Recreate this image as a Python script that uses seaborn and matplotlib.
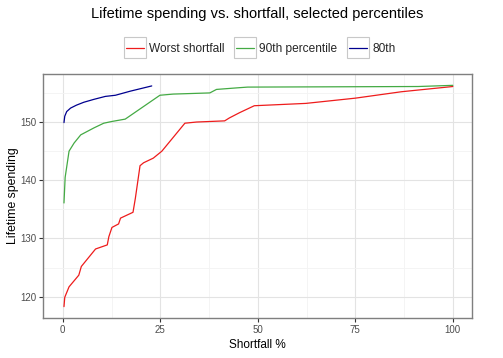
#!/usr/bin/env python
import pandas as pd
import seaborn as sns
from matplotlib import pyplot as plt
from matplotlib.legend_handler import HandlerLine2D
from matplotlib.patches import Rectangle
import matplotlib.ticker as ticker

# series
worst_x = [0.3, 0.5, 1.6, 4.1, 4.75, 8.4, 11.4, 11.8, 12.6, 14.3, 14.8, 18.0,
           18.6, 19.8, 20.7, 23.2, 25.4, 31.3, 34.3, 41.5, 42.7, 45.3, 49.1,
           62.3, 75.0, 86.8, 100.0]
worst_y = [118.3, 119.9, 121.7, 123.7, 125.2, 128.2, 128.9, 130.3, 131.9, 132.5,
           133.5, 134.5, 136.9, 142.5, 143.0, 143.8, 145.0, 149.8, 150.0, 150.2,
           150.7, 151.6, 152.8, 153.2, 154.1, 155.2, 156.1]

p90_x = [0.3, 0.6, 1.6, 2.9, 4.6, 8.0, 10.5, 12.6, 16.0, 24.9, 28.3, 37.7, 39.4,
         45.3, 47.4, 91.1, 100.0]
p90_y = [136.1, 140.5, 145.0, 146.4, 147.8, 149.0, 149.8, 150.1, 150.5, 154.6,
         154.8, 155.0, 155.6, 155.9, 156.0, 156.1, 156.3]

p80_x = [0.3, 0.5, 1.0, 2.0, 3.5, 5.4, 8.0, 10.9, 13.5, 17.3, 22.8]
p80_y = [149.9, 151.0, 151.8, 152.4, 152.9, 153.4, 153.9, 154.4, 154.6, 155.3, 156.2]

series_names = ["Worst shortfall", "90th percentile", "80th"]
series_colors = ["#EE1C1C", "#44AA44", "#00008F"]

x_ticks = [0, 25, 50, 75, 100]
y_ticks = [120, 130, 140, 150]

frames = []
for name, xs, ys in zip(series_names, [worst_x, p90_x, p80_x], [worst_y, p90_y, p80_y]):
    frames.append(pd.DataFrame({"Shortfall %": xs, "Lifetime spending": ys, "series": name}))
df = pd.concat(frames, ignore_index=True)

sns.set_theme(style="white")
plt.rcParams["font.family"] = ["Liberation Sans", "DejaVu Sans"]

fig = plt.figure(figsize=(5.03, 3.58), dpi=100)
ax = fig.add_axes([0.0861, 0.1126, 0.939 - 0.0861, 0.7925 - 0.1126])

sns.lineplot(data=df, x="Shortfall %", y="Lifetime spending", hue="series",
             hue_order=series_names, palette=dict(zip(series_names, series_colors)),
             sort=False, estimator=None, linewidth=0.9, ax=ax, legend=False)

# ggplot-style expansion of 5%
ymin = min(min(worst_y), min(p90_y), min(p80_y))
ymax = max(max(worst_y), max(p90_y), max(p80_y))
pad = (ymax - ymin) * 0.05
ax.set_ylim(ymin - pad, ymax + pad)
ax.set_xlim(-5, 105)

ax.xaxis.set_major_locator(ticker.FixedLocator(x_ticks))
ax.yaxis.set_major_locator(ticker.FixedLocator(y_ticks))
ax.xaxis.set_minor_locator(ticker.MultipleLocator(12.5))
ax.yaxis.set_minor_locator(ticker.FixedLocator([115, 125, 135, 145, 155]))
ax.grid(which="major", color="#E3E3E3", linewidth=0.8)
ax.grid(which="minor", color="#F3F3F3", linewidth=0.6)
ax.set_axisbelow(True)
for sp in ax.spines.values():
    sp.set_color("#7F7F7F")
    sp.set_linewidth(1.0)
ax.tick_params(which="major", direction="out", length=3, width=0.8, color="#333333",
               labelsize=7, labelcolor="#4D4D4D", pad=2, bottom=True, left=True)
ax.tick_params(which="minor", length=0)

ax.set_xlabel("Shortfall %", fontsize=8.5, color="black", labelpad=3)
ax.set_ylabel("Lifetime spending", fontsize=8.8, color="black", labelpad=1)

fig.text(0.512, 0.962, "Lifetime spending vs. shortfall, selected percentiles",
         ha="center", va="center", fontsize=10.5, color="black")


class BoxedLine(HandlerLine2D):
    def create_artists(self, legend, orig_handle, xdescent, ydescent, width, height,
                       fontsize, trans):
        box = Rectangle((-xdescent, -ydescent - 0.75 * height), width, height * 2.5,
                        facecolor="white", edgecolor="#C8C8C8", linewidth=0.8,
                        transform=trans)
        inset = 0.1 * width
        artists = super().create_artists(legend, orig_handle, xdescent - inset, ydescent,
                                         width - 2 * inset, height, fontsize, trans)
        return [box] + artists


handles = [plt.Line2D([], [], color=c, linewidth=0.9) for c in series_colors]
fig.legend(handles, series_names, loc="center", bbox_to_anchor=(0.516, 0.864),
           ncol=3, frameon=False, fontsize=8.6, handlelength=1.9, handletextpad=0.25,
           columnspacing=0.75, handler_map={plt.Line2D: BoxedLine()})

fig.savefig("out.png", dpi=100)
